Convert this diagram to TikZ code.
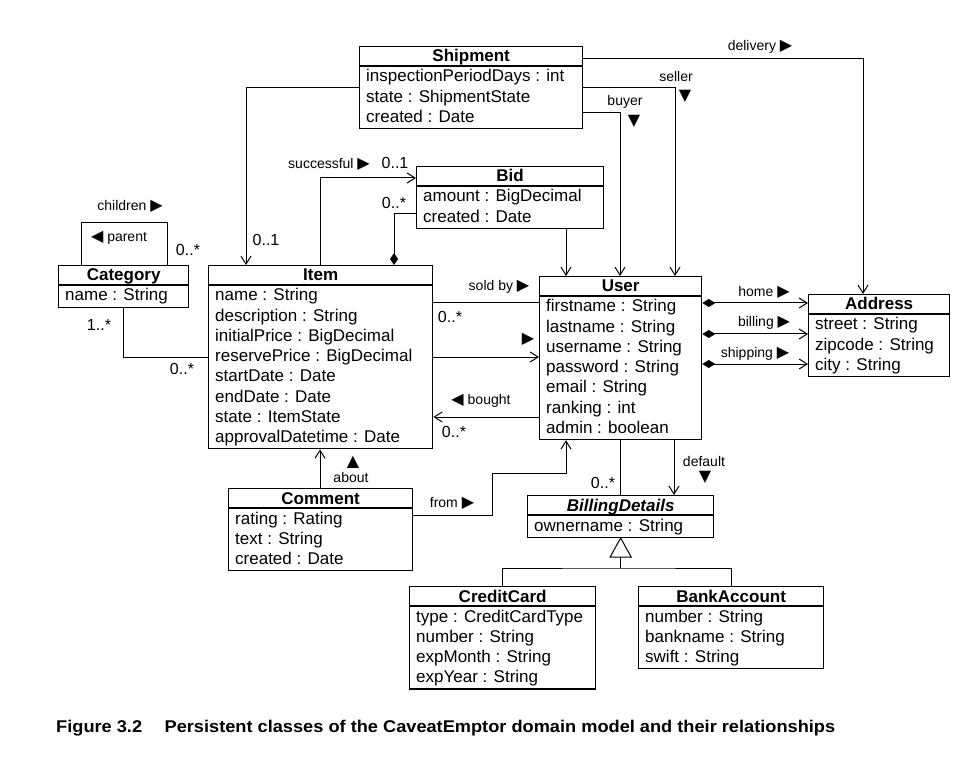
\documentclass[tikz,border=0pt]{standalone}
\usepackage{graphicx}
\usepackage{fontspec}
\setmainfont{Liberation Sans}
\newfontfamily\symf{DejaVu Sans}
\usetikzlibrary{arrows.meta}
\newcommand{\rtri}{{\symf\fontsize{16}{16}\selectfont\char"25B6}}
\newcommand{\ltri}{{\symf\fontsize{16}{16}\selectfont\char"25C0}}
\newcommand{\dtri}{{\symf\fontsize{16}{16}\selectfont\char"25BC}}
\newcommand{\utri}{{\symf\fontsize{16}{16}\selectfont\char"25B2}}
\tikzset{
 clsbox/.style={draw, line width=1.3pt, inner sep=0pt, fill=white},
 boxline/.style={line width=1.2pt},
 titletext/.style={font=\bfseries\fontsize{17}{20}\selectfont, inner sep=0pt},
 attrtext/.style={font=\fontsize{17}{20}\selectfont, inner sep=0pt},
 lbl/.style={font=\fontsize{14}{16}\selectfont, inner sep=0pt},
 mult/.style={font=\fontsize{16}{18}\selectfont, inner sep=0pt},
 conn/.style={line width=1pt},
 arr/.style={conn, -{Straight Barb[length=8pt,width=10pt]}},
 comp/.style={conn, {Diamond[length=13pt,width=8pt]}-{Straight Barb[length=8pt,width=10pt]}},
 compend/.style={conn, -{Diamond[length=12pt,width=8pt]}},
}
% #1 name, #2 x, #3 y, #4 width, #5 number of rows, #6 title, #7 rows
\newcommand{\umlcls}[7]{%
  \pgfmathsetmacro{\hh}{21.5+#5*20.2}
  \node[clsbox, minimum width=#4pt, minimum height=\hh pt, anchor=north west] (#1) at (#2,#3) {};
  \draw[boxline] ([yshift=-20pt]#1.north west) -- ([yshift=-20pt]#1.north east);
  \node[titletext, anchor=base] (#1-t) at ([yshift=-16pt]#1.north) {#6};
  \foreach \r [count=\i] in {#7} {
    \node[attrtext, anchor=base west] (#1-\i) at ([xshift=7pt,yshift={-36pt-(\i-1)*20.2pt}]#1.north west) {\r};
  }
}
\begin{document}
\begin{tikzpicture}[x=1pt,y=-1pt]
\useasboundingbox[fill=white] (0,0) rectangle (970,762);

% classes
\umlcls{ship}{359}{46}{223}{3}{Shipment}{inspectionPeriodDays : int, state : ShipmentState, created : Date}
\umlcls{bid}{416}{166}{187}{2}{Bid}{amount : BigDecimal, created : Date}
\umlcls{cat}{58}{265}{130}{1}{Category}{name : String}
\umlcls{item}{208}{265}{224}{8}{Item}{name : String, description : String, initialPrice : BigDecimal, reservePrice : BigDecimal, startDate : Date, endDate : Date, state : ItemState, approvalDatetime : Date}
\umlcls{user}{539}{276}{162}{7}{User}{firstname : String, lastname : String, username : String, password : String, email : String, ranking : int, admin : boolean}
\umlcls{addr}{808}{294}{141}{3}{Address}{street : String, zipcode : String, city : String}
\umlcls{comm}{228}{488}{184}{3}{Comment}{rating : Rating, text : String, created : Date}
\umlcls{bill}{527}{495}{186}{1}{\textit{BillingDetails}}{ownername : String}
\umlcls{cc}{409}{586}{186}{4}{CreditCard}{type : CreditCardType, number : String, expMonth : String, expYear : String}
\umlcls{ba}{638}{586}{185}{3}{BankAccount}{number : String, bankname : String, swift : String}

% Shipment associations
\draw[arr] (ship.west) -| ([xshift=38pt]item.north west);
\draw[arr] ([yshift=-13pt]ship.north east) -| ([xshift=55pt]addr.north west);
\draw[arr] (ship.east) -| ([xshift=136pt]user.north west);
\draw[arr] ([yshift=-67pt]ship.north east) -| ([xshift=81pt]user.north west);

% Bid
\coordinate (bidb) at ([xshift=150pt]bid.south west);
\draw[arr] (bidb) -- (bidb |- user.north);
\draw[arr] ([xshift=112pt]item.north west) |- ([yshift=-12pt]bid.north west);
\draw[compend] ([yshift=-48pt]bid.north west) -| ([xshift=186pt]item.north west);

% Category
\draw[conn] ([xshift=23pt]cat.north west) -- ++(0,-42) -| ([xshift=109pt]cat.north west);
\draw[conn] ([xshift=65pt]cat.south west) |- ([yshift=-92pt]item.north west);

% Item - User
\coordinate (sb) at ([yshift=-38pt]item.north east);
\draw[conn] (sb) -- (sb -| user.west);
\coordinate (un) at ([yshift=-92pt]item.north east);
\draw[arr] (un) -- (un -| user.west);
\coordinate (bo) at ([yshift=-152pt]item.north east);
\draw[arr] (bo -| user.west) -- (bo);

% User - Address
\coordinate (uh) at ([yshift=-27pt]user.north east);
\draw[comp] (uh) -- (uh -| addr.west);
\coordinate (ub) at ([yshift=-58pt]user.north east);
\draw[comp] (ub) -- (ub -| addr.west);
\coordinate (us) at ([yshift=-88pt]user.north east);
\draw[comp] (us) -- (us -| addr.west);

% Comment
\coordinate (ab) at ([xshift=92pt]comm.north west);
\draw[arr] (ab) -- (ab |- item.south);
\draw[arr] ([yshift=-27pt]comm.north east) -- ++(79,0) -- ++(0,-42) -| ([xshift=27pt]user.south west);

% User - BillingDetails
\coordinate (bd) at ([xshift=93pt]bill.north west);
\draw[conn] (bd |- user.south) -- (bd);
\coordinate (df) at ([xshift=147pt]bill.north west);
\draw[arr] (df |- user.south) -- (df);

% generalization
\coordinate (gb) at ([yshift=-19pt]bill.south);
\coordinate (gj) at ([yshift=-30pt]bill.south);
\draw[conn] (gb) -- (gj);
\draw[conn] (cc.north) |- (gj) -| (ba.north);
\draw[conn, fill=white, line join=miter] (bill.south) -- ([xshift=-10.5pt]gb) -- ([xshift=10.5pt]gb) -- cycle;

% labels
\node[lbl] (l-deliv) at (760,47) {delivery \rtri};
\node[lbl] (l-seller) at (676,76) {seller};
\node[lbl] (l-sellt) at (685,96) {\dtri};
\node[lbl] (l-buyer) at (625,102) {buyer};
\node[lbl] (l-buyt) at (634,121) {\dtri};
\node[lbl] (l-succ) at (329,164) {successful \rtri};
\node[mult] (m-succ) at (395,163) {0..1};
\node[mult] (m-bid) at (394,203) {0..*};
\node[mult] (m-ship) at (266,240) {0..1};
\node[lbl] (l-child) at (130,206) {children \rtri};
\node[lbl] (l-par) at (119,238) {\ltri{} parent};
\node[mult] (m-cat) at (188,250) {0..*};
\node[mult] (m-cat1) at (99,325) {1..*};
\node[mult] (m-cat2) at (182,369) {0..*};
\node[lbl] (l-sold) at (499,287) {sold by \rtri};
\node[mult] (m-sold) at (450,317) {0..*};
\node[lbl] (l-un) at (528,339) {\rtri};
\node[lbl] (l-bought) at (481,401) {\ltri{} bought};
\node[mult] (m-bought) at (454,432) {0..*};
\node[lbl] (l-home) at (764,292) {home \rtri};
\node[lbl] (l-billing) at (764,323) {billing \rtri};
\node[lbl] (l-shipping) at (755,354) {shipping \rtri};
\node[lbl] (l-abt) at (353,462) {\utri};
\node[lbl] (l-about) at (351,477) {about};
\node[lbl] (l-from) at (452,503) {from \rtri};
\node[mult] (m-bill) at (603,483) {0..*};
\node[lbl] (l-def) at (704,461) {default};
\node[lbl] (l-deft) at (705,477) {\dtri};

% caption
\node[anchor=base west, inner sep=0pt] (cap) at (56,732) {\resizebox{779pt}{\height}{\bfseries\fontsize{17}{20}\selectfont Figure 3.2\hspace{21pt}Persistent classes of the CaveatEmptor domain model and their relationships}};
\end{tikzpicture}
\end{document}
